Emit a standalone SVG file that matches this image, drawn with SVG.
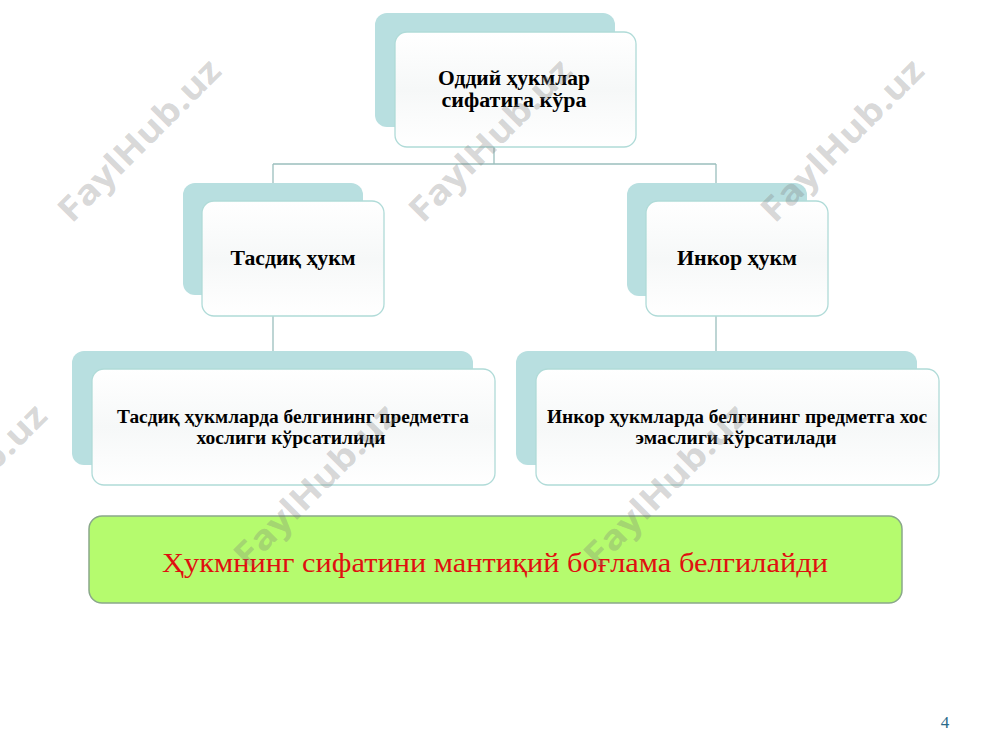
<svg xmlns="http://www.w3.org/2000/svg" width="1000" height="750" viewBox="0 0 1000 750">
<defs>
<linearGradient id="fg" x1="0" y1="0" x2="0" y2="1">
<stop offset="0" stop-color="#ffffff"/>
<stop offset="0.5" stop-color="#f6f8f8"/>
<stop offset="1" stop-color="#ffffff"/>
</linearGradient>
<style>
.back{fill:#b8dfe0;}
.front{fill:url(#fg);stroke:#b0dbd8;stroke-width:1.3;}
.lbl{font-family:"Liberation Serif","Times New Roman",serif;font-weight:bold;fill:#000;text-anchor:middle;}
.conn{stroke:#9bbfbd;stroke-width:1.3;fill:none;}
.wm{font-family:"Open Sans","DejaVu Sans",sans-serif;font-weight:bold;font-size:34px;fill:#7a7a7a;fill-opacity:0.3;text-anchor:middle;}
</style>
</defs>
<rect width="1000" height="750" fill="#ffffff"/>

<g id="connectors">
<path class="conn" d="M494 147 V164 M273 164 H716 M273 164 V183 M716 164 V183 M273 316 V351 M716 316 V351"/>
</g>

<g id="node-top">
<rect class="back" x="375" y="13" width="240" height="114" rx="12"/>
<rect class="front" x="395" y="32" width="241" height="115" rx="12"/>
<text class="lbl" font-size="20.5" x="514" y="85" textLength="152" lengthAdjust="spacingAndGlyphs">Оддий ҳукмлар</text>
<text class="lbl" font-size="20.5" x="514" y="107" textLength="145" lengthAdjust="spacingAndGlyphs">сифатига кўра</text>
</g>

<g id="node-tasdiq">
<rect class="back" x="183" y="183" width="180" height="112" rx="12"/>
<rect class="front" x="202" y="201" width="182" height="115" rx="12"/>
<text class="lbl" font-size="21" x="293" y="265" textLength="125" lengthAdjust="spacingAndGlyphs">Тасдиқ ҳукм</text>
</g>

<g id="node-inkor">
<rect class="back" x="627" y="183" width="180" height="113" rx="12"/>
<rect class="front" x="646" y="201" width="182" height="115" rx="12"/>
<text class="lbl" font-size="21" x="737" y="265" textLength="120" lengthAdjust="spacingAndGlyphs">Инкор ҳукм</text>
</g>

<g id="node-tasdiq-desc">
<rect class="back" x="72" y="351" width="401" height="114" rx="12"/>
<rect class="front" x="92" y="369" width="403" height="116" rx="12"/>
<text class="lbl" font-size="18.5" x="293" y="423" textLength="352" lengthAdjust="spacingAndGlyphs">Тасдиқ ҳукмларда белгининг предметга</text>
<text class="lbl" font-size="18.5" x="291" y="444" textLength="189" lengthAdjust="spacingAndGlyphs">хослиги кўрсатилиди</text>
</g>

<g id="node-inkor-desc">
<rect class="back" x="516" y="351" width="401" height="114" rx="12"/>
<rect class="front" x="536" y="369" width="403" height="116" rx="12"/>
<text class="lbl" font-size="18.5" x="737" y="423" textLength="380" lengthAdjust="spacingAndGlyphs">Инкор ҳукмларда белгининг предметга хос</text>
<text class="lbl" font-size="18.5" x="736" y="444" textLength="201" lengthAdjust="spacingAndGlyphs">эмаслиги кўрсатилади</text>
</g>

<g id="note">
<rect x="89" y="516" width="813" height="87" rx="13" fill="#b5fb6e" stroke="#8aa88a" stroke-width="1.5"/>
<text x="495" y="572" font-family="'Liberation Serif','Times New Roman',serif" font-size="28" fill="#e01010" text-anchor="middle" textLength="666" lengthAdjust="spacingAndGlyphs">Ҳукмнинг сифатини мантиқий боғлама белгилайди</text>
</g>

<text x="945" y="728" font-family="'Liberation Serif','Times New Roman',serif" font-size="17" fill="#2a6a8a" text-anchor="middle">4</text>

<g id="watermark">
<text class="wm" x="139" y="152" transform="rotate(-45 139 140)" textLength="214" lengthAdjust="spacingAndGlyphs">FaylHub.uz</text>
<text class="wm" x="490" y="152" transform="rotate(-45 490 140)" textLength="214" lengthAdjust="spacingAndGlyphs">FaylHub.uz</text>
<text class="wm" x="842" y="152" transform="rotate(-45 842 140)" textLength="214" lengthAdjust="spacingAndGlyphs">FaylHub.uz</text>
<text class="wm" x="-35" y="497" transform="rotate(-45 -35 485)" textLength="214" lengthAdjust="spacingAndGlyphs">FaylHub.uz</text>
<text class="wm" x="315" y="497" transform="rotate(-45 315 485)" textLength="214" lengthAdjust="spacingAndGlyphs">FaylHub.uz</text>
<text class="wm" x="665" y="497" transform="rotate(-45 665 485)" textLength="214" lengthAdjust="spacingAndGlyphs">FaylHub.uz</text>
</g>
</svg>
